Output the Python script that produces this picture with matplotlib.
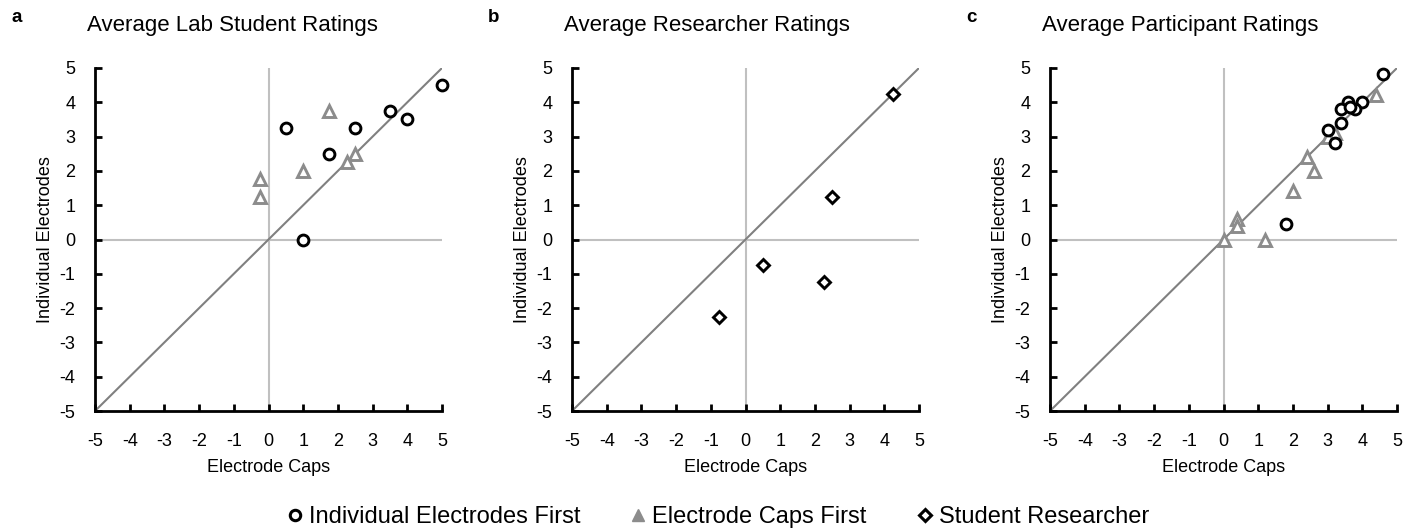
import matplotlib
matplotlib.use("Agg")
import matplotlib.pyplot as plt
from matplotlib.lines import Line2D

plt.rcParams["font.family"] = ["Liberation Sans", "DejaVu Sans"]
plt.rcParams["axes.unicode_minus"] = False

# panel a: average lab student ratings
a_ind_x = [0.5, 2.5, 1.75, 3.5, 4.0, 5.0, 1.0]
a_ind_y = [3.25, 3.25, 2.5, 3.75, 3.5, 4.5, 0.0]
a_cap_x = [1.75, 2.5, 2.25, 1.0, -0.25, -0.25]
a_cap_y = [3.75, 2.5, 2.25, 2.0, 1.75, 1.25]

# panel b: average researcher ratings
b_res_x = [4.25, 2.5, 0.5, 2.25, -0.75]
b_res_y = [4.25, 1.25, -0.75, -1.25, -2.25]

# panel c: average participant ratings
c_ind_x = [4.6, 4.0, 3.6, 3.4, 3.8, 3.65, 3.4, 3.0, 3.2, 1.8]
c_ind_y = [4.83, 4.0, 4.0, 3.8, 3.8, 3.85, 3.4, 3.2, 2.8, 0.45]
c_cap_x = [4.4, 3.2, 3.0, 2.4, 2.6, 2.0, 0.4, 0.4, 0.0, 1.2]
c_cap_y = [4.2, 3.1, 3.0, 2.4, 2.0, 1.4, 0.6, 0.4, 0.0, 0.0]

titles = ["Average Lab Student Ratings", "Average Researcher Ratings",
          "Average Participant Ratings"]
letters = ["a", "b", "c"]
ticks = list(range(-5, 6))

GREY = "#8c8c8c"
circ = dict(marker="o", ms=7.8, mfc="white", mec="black", mew=2.1, ls="none", clip_on=False)
tri = dict(marker="^", ms=8.3, mfc="white", mec=GREY, mew=2.1, ls="none", clip_on=False)
dia = dict(marker="D", ms=6.3, mfc="white", mec="black", mew=2.1, ls="none", clip_on=False)

fig = plt.figure(figsize=(14.19, 5.31), dpi=100)
lefts = [95, 572, 1050]
axes = []
for i, lx in enumerate(lefts):
    ax = fig.add_axes([lx / 1419, 1 - 411 / 531, 347 / 1419, 343 / 531])
    ax.set_xlim(-5, 5)
    ax.set_ylim(-5, 5)
    ax.set_xticks(ticks)
    ax.set_yticks(ticks)
    ax.axhline(0, color="#c0c0c0", lw=1.5, zorder=1)
    ax.axvline(0, color="#c0c0c0", lw=1.5, zorder=1)
    ax.plot([-5, 5], [-5, 5], color="#808080", lw=1.5, zorder=2)
    for s in ["top", "right"]:
        ax.spines[s].set_visible(False)
    for s in ["left", "bottom"]:
        ax.spines[s].set_linewidth(2)
    ax.tick_params(direction="in", length=5, width=2, labelsize=13)
    ax.tick_params(axis="x", pad=16)
    ax.tick_params(axis="y", pad=14)
    ax.set_xlabel("Electrode Caps", fontsize=13, labelpad=6)
    ax.set_ylabel("Individual Electrodes", fontsize=13, labelpad=4)
    fig.text((lx - 8) / 1419, 1 - 25 / 531, titles[i], fontsize=16,
             ha="left", va="center")
    fig.text((lx - 84) / 1419, 1 - 17 / 531, letters[i], fontsize=13.5,
             fontweight="bold", ha="left", va="center")
    axes.append(ax)

axes[0].plot(a_cap_x, a_cap_y, zorder=3, **tri)
axes[0].plot(a_ind_x, a_ind_y, zorder=4, **circ)
axes[1].plot(b_res_x, b_res_y, zorder=4, **dia)
axes[2].plot(c_cap_x, c_cap_y, zorder=3, **tri)
axes[2].plot(c_ind_x, c_ind_y, zorder=4, **circ)

handles = [
    Line2D([], [], marker="o", ms=7.5, mfc="white", mec="black", mew=2.2, ls="none"),
    Line2D([], [], marker="^", ms=8, mfc=GREY, mec=GREY, mew=1, ls="none"),
    Line2D([], [], marker="D", ms=6, mfc="white", mec="black", mew=2.2, ls="none"),
]
labels = ["Individual Electrodes First", "Electrode Caps First", "Student Researcher"]
fig.legend(handles, labels, loc="center", bbox_to_anchor=(0.505, 1 - 517 / 531),
           ncol=3, frameon=False, fontsize=17, handletextpad=0.15,
           columnspacing=2.0, handlelength=0.9)

fig.savefig("out.png", dpi=100)
